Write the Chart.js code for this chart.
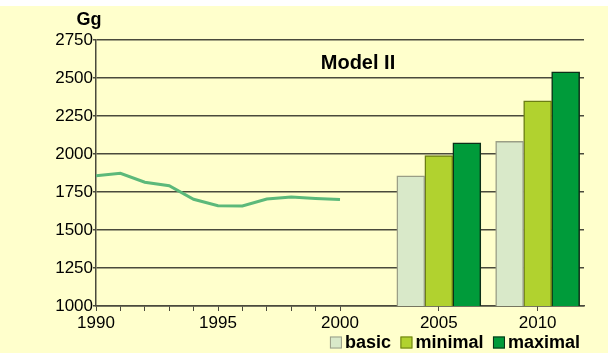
<!DOCTYPE html>
<html>
<head>
<meta charset="utf-8">
<script src="https://cdn.jsdelivr.net/npm/chart.js@4.4.1/dist/chart.umd.min.js"></script>
<style>
  html, body { margin:0; padding:0; background:#fff; }
  #wrap { position:absolute; left:0; top:6px; width:608px; height:347px; background:#ffffcc; }
</style>
</head>
<body>
<div id="wrap"><canvas id="chart" width="608" height="347"></canvas></div>
<script>
// historical emissions (line) and scenario projections (bars), in Gg
var histYears  = [1990, 1991, 1992, 1993, 1994, 1995, 1996, 1997, 1998, 1999, 2000];
var histValues = [1857, 1873, 1814, 1791, 1702, 1660, 1658, 1704, 1717, 1708, 1700];
var scenYears  = [2005, 2010];
var basic      = [1857, 2083];
var minimal    = [1989, 2350];
var maximal    = [2074, 2540];
var yTicks     = [1000, 1250, 1500, 1750, 2000, 2250, 2500, 2750];
var xLabelYears = [1990, 1995, 2000, 2005, 2010];

// the axis is compressed after 2000: one year-step before, 0.81 after
var STEP_AFTER = 0.81;
function slotOf(year){ return year <= 2000 ? year - 1990 : 10 + (year - 2000) * STEP_AFTER; }
function yearOfSlot(s){ return s <= 10 ? 1990 + s : 2000 + (s - 10) / STEP_AFTER; }

function pts(years, vals){
  return years.map(function(y, i){ return { x: slotOf(y), y: vals[i] }; });
}

var tickSlots = histYears.map(slotOf).concat(scenYears.map(slotOf));
var axisColor = '#4a4a3c';
var FONT = '"Liberation Sans", Arial, sans-serif';

var overlay = {
  id: 'overlay',
  afterDraw: function(chart){
    var ctx = chart.ctx, area = chart.chartArea;
    ctx.save();
    ctx.fillStyle = '#000';
    ctx.textBaseline = 'alphabetic';
    ctx.textAlign = 'center';
    ctx.font = 'bold 18px ' + FONT;
    ctx.fillText('Gg', 89, 19);
    ctx.font = 'bold 20px ' + FONT;
    ctx.fillText('Model II', 358, 63);

    // legend for the bar series, right aligned under the axis
    ctx.font = 'bold 18px ' + FONT;
    ctx.textAlign = 'left';
    var items = chart.data.datasets.filter(function(d){ return d.type !== 'line'; });
    var box = 12, gap = 3, space = 9.5;
    var total = 0;
    items.forEach(function(d, i){
      total += box + gap + ctx.measureText(d.label).width + (i ? space : 0);
    });
    var x = area.right - 4 - total;
    items.forEach(function(d){
      ctx.fillStyle = d.backgroundColor;
      ctx.fillRect(x, 330.5, box, box);
      ctx.strokeStyle = d.borderColor;
      ctx.lineWidth = 1;
      ctx.strokeRect(x + 0.5, 331, box - 1, box - 1);
      ctx.fillStyle = '#000';
      ctx.fillText(d.label, x + box + gap, 341.5);
      x += box + gap + ctx.measureText(d.label).width + space;
    });
    ctx.restore();
  }
};

new Chart(document.getElementById('chart'), {
  type: 'bar',
  data: {
    datasets: [
      { type:'line', label:'history', data: pts(histYears, histValues),
        borderColor:'#5cb97a', borderWidth:3, pointRadius:0, tension:0 },
      { label:'basic', data: pts(scenYears, basic),
        backgroundColor:'#d9e9c9', borderColor:'#9a9e86', borderWidth:1.5 },
      { label:'minimal', data: pts(scenYears, minimal),
        backgroundColor:'#b1d22f', borderColor:'#6b7d14', borderWidth:1.5 },
      { label:'maximal', data: pts(scenYears, maximal),
        backgroundColor:'#009b3a', borderColor:'#0c2f18', borderWidth:1.5 }
    ]
  },
  options: {
    responsive:false,
    devicePixelRatio:1,
    animation:false,
    layout:{ padding:{ left:0, right:24, top:34, bottom:0 } },
    datasets:{ bar:{ barThickness:28, grouped:true } },
    plugins:{ legend:{ display:false }, tooltip:{ enabled:false } },
    scales:{
      x:{
        type:'linear', min:0, max:20, offset:false,
        afterBuildTicks:function(s){ s.ticks = tickSlots.map(function(v){ return { value:v }; }); },
        afterFit:function(s){ s.height = 47; },
        grid:{ drawOnChartArea:false, offset:false, color:axisColor, tickLength:5, lineWidth:1 },
        border:{ display:true, color:axisColor, width:1.5 },
        ticks:{
          autoSkip:false, maxRotation:0, padding:2, color:'#000',
          font:{ family:FONT, size:17 },
          callback:function(v){
            var yr = Math.round(yearOfSlot(v));
            return xLabelYears.indexOf(yr) >= 0 ? String(yr) : '';
          }
        }
      },
      y:{
        min:1000, max:2750,
        afterBuildTicks:function(s){ s.ticks = yTicks.map(function(v){ return { value:v }; }); },
        afterFit:function(s){ s.width = 96; },
        grid:{ color:axisColor, lineWidth:1.5, tickLength:3 },
        border:{ display:true, color:axisColor, width:1.5 },
        ticks:{ padding:0, color:'#000', font:{ family:FONT, size:17 },
          callback:function(v){ return String(v); } }
      }
    }
  },
  plugins:[overlay]
});
</script>
</body>
</html>
